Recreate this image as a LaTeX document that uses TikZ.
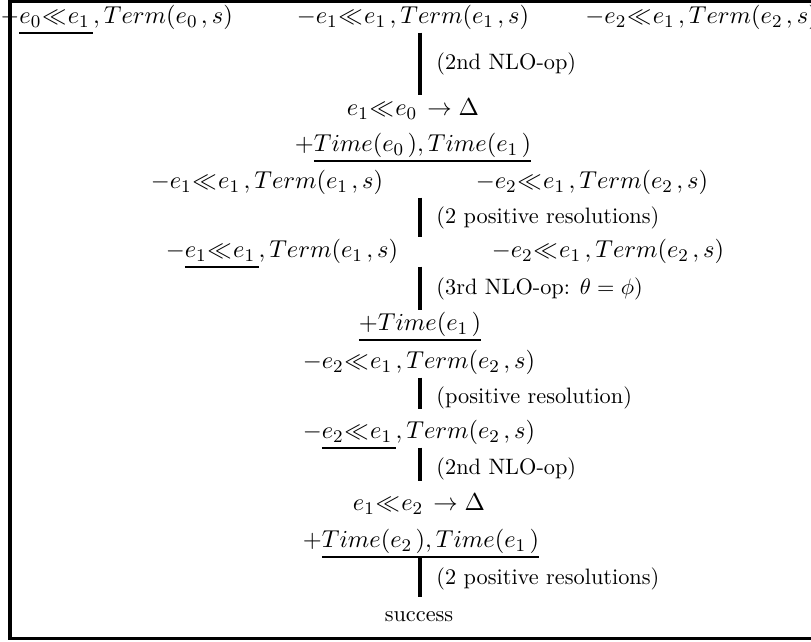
\documentclass[tikz,border=0pt]{standalone}
\scriptspace=2pt
\newcommand{\bef}{\mskip-2mu\mathord{\ll}\mskip1mu}
\newcommand{\uln}[1]{\mathord{\vtop{\hbox{$#1\vphantom{(}$}\kern1pt\hrule height0.9pt}}}
\begin{document}
\begin{tikzpicture}[x=0.4484pt,y=-0.4484pt,
  term/.style={font=\fontsize{11}{13}\selectfont, inner xsep=0pt, inner ysep=1pt, text height=8pt, text depth=2.75pt},
  bar/.style={line width=1.35pt},
  note/.style={right=6.7pt, inner sep=0pt}]
\clip (0,0) rectangle (811,642);
% frame, open on the right
\draw[line width=1.35pt] (10,1.5) rectangle (840,638.5);
\coordinate (spine) at (420,0);

% the three clauses
\node[term, anchor=west] (a1) at (0,18)   {$-\uln{e_0\bef e_1}, Term(e_0,s)$};
\node[term]              (b1) at (413,18) {$-e_1\bef e_1, Term(e_1,s)$};
\node[term, anchor=west] (c1) at (585,18) {$-e_2\bef e_1, Term(e_2,s)$};

\node[term] (b2) at (413,110) {$e_1\bef e_0\rightarrow\Delta$};
\node[term] (b3) at (413,146) {$+\uln{Time(e_0), Time(e_1)}$};
\node[term] (a4) at (267,183) {$-e_1\bef e_1, Term(e_1,s)$};
\node[term] (c4) at (592,183) {$-e_2\bef e_1, Term(e_2,s)$};
\node[term] (a5) at (282,252) {$-\uln{e_1\bef e_1}, Term(e_1,s)$};
\node[term] (c5) at (608,252) {$-e_2\bef e_1, Term(e_2,s)$};
\node[term] (b6) at (420,325) {$\uln{+Time(e_1)}$};
\node[term] (b7) at (419,363) {$-e_2\bef e_1, Term(e_2,s)$};
\node[term] (b8) at (419,433) {$-\uln{e_2\bef e_1}, Term(e_2,s)$};
\node[term] (b9) at (419,505) {$e_1\bef e_2\rightarrow\Delta$};
\node[term] (b10) at (421,542) {$+\uln{Time(e_2), Time(e_1)}$};
\node[term, font=\normalsize] (b11) at (419,616) {success};

% derivation steps
\draw[bar] (b1.south -| spine) -- node[note] {(2nd NLO-op)} (b2.north -| spine);
\draw[bar] (a4.south -| spine) -- node[note] {(2 positive resolutions)} (a5.north -| spine);
\draw[bar] (a5.south -| spine) -- node[note] {(3rd NLO-op: $\theta=\phi$)} (b6.north -| spine);
\draw[bar, shorten >=4pt] (b7.south -| spine) -- node[note] {(positive resolution)} (b8.north -| spine);
\draw[bar, shorten >=4pt] (b8.south -| spine) -- node[note] {(2nd NLO-op)} (b9.north -| spine);
\draw[bar, shorten >=2pt] (b10.south -| spine) -- node[note] {(2 positive resolutions)} (b11.north -| spine);
\end{tikzpicture}
\end{document}
